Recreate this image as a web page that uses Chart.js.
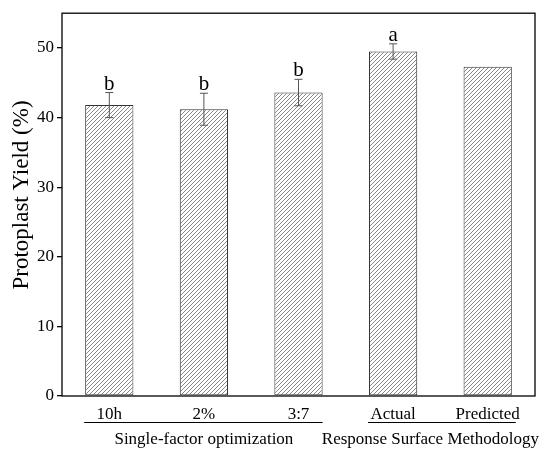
<!DOCTYPE html>
<html>
<head>
<meta charset="utf-8">
<script src="https://cdn.jsdelivr.net/npm/chart.js@4.4.0/dist/chart.umd.min.js"></script>
<style>
html,body{margin:0;padding:0;background:#fff;}
#wrap{width:550px;height:455px;}
</style>
</head>
<body>
<div id="wrap"><canvas id="c" width="550" height="455"></canvas></div>
<script>
const categories = ['10h', '2%', '3:7', 'Actual', 'Predicted'];
const yieldValues = [41.8, 41.2, 43.6, 49.5, 47.3];
const yieldErrors = [1.8, 2.3, 1.9, 1.1, null];
const sigLetters = ['b', 'b', 'b', 'a', ''];
const groupLabels = ['Single-factor optimization', 'Response Surface Methodology'];
const groupStart = [0, 3];
const groupEnd = [2, 4];
const yTicks = [0, 10, 20, 30, 40, 50];
const yTitle = 'Protoplast Yield (%)';

const FONT = '"Liberation Serif", "Times New Roman", serif';

function makeHatch() {
  const s = 4;
  const p = document.createElement('canvas');
  p.width = s; p.height = s;
  const g = p.getContext('2d');
  g.fillStyle = '#ffffff';
  g.fillRect(0, 0, s, s);
  g.strokeStyle = '#6a6a6a';
  g.lineWidth = 0.8;
  g.beginPath();
  g.moveTo(-1, s + 1); g.lineTo(s + 1, -1);
  g.moveTo(-1, 1); g.lineTo(1, -1);
  g.moveTo(s - 1, s + 1); g.lineTo(s + 1, s - 1);
  g.stroke();
  return g.createPattern(p, 'repeat');
}

const ctx = document.getElementById('c').getContext('2d');
const hatch = makeHatch();

const overlay = {
  id: 'overlay',
  afterDatasetsDraw(chart) {
    const c = chart.ctx;
    const y = chart.scales.y;
    const meta = chart.getDatasetMeta(0);
    c.save();
    c.strokeStyle = '#555';
    c.lineWidth = 1;
    meta.data.forEach((bar, i) => {
      const cx = bar.x;
      let topY = y.getPixelForValue(yieldValues[i]);
      if (yieldErrors[i] != null) {
        const hi = y.getPixelForValue(yieldValues[i] + yieldErrors[i]);
        const lo = y.getPixelForValue(yieldValues[i] - yieldErrors[i]);
        c.beginPath();
        c.moveTo(cx, hi); c.lineTo(cx, lo);
        c.moveTo(cx - 4, hi); c.lineTo(cx + 4, hi);
        c.moveTo(cx - 4, lo); c.lineTo(cx + 4, lo);
        c.stroke();
        topY = hi;
      }
      if (sigLetters[i]) {
        c.fillStyle = '#000';
        c.font = '21px ' + FONT;
        c.textAlign = 'center';
        c.textBaseline = 'alphabetic';
        c.fillText(sigLetters[i], cx, topY - 3);
      }
    });
    c.restore();
  },
  afterDraw(chart) {
    const c = chart.ctx;
    const a = chart.chartArea;
    const meta = chart.getDatasetMeta(0);
    c.save();
    c.strokeStyle = '#000';
    c.lineWidth = 1.3;
    c.strokeRect(a.left, a.top, a.right - a.left, a.bottom - a.top);
    // y title
    c.save();
    c.translate(22, 195);
    c.rotate(-Math.PI / 2);
    c.font = '23px ' + FONT;
    c.fillStyle = '#000';
    c.textAlign = 'center';
    c.textBaseline = 'middle';
    c.fillText(yTitle, 0, 0);
    c.restore();
    // group underline and labels
    c.font = '17px ' + FONT;
    c.fillStyle = '#000';
    c.textAlign = 'center';
    c.textBaseline = 'middle';
    c.lineWidth = 1;
    for (let g = 0; g < groupLabels.length; g++) {
      const b0 = meta.data[groupStart[g]], b1 = meta.data[groupEnd[g]];
      const l = b0.x - b0.width / 2 - 1, r = b1.x + b1.width / 2 + (g === 1 ? 4 : 0);
      c.beginPath();
      c.moveTo(l, a.bottom + 26.5); c.lineTo(r, a.bottom + 26.5);
      c.stroke();
      const w = c.measureText(groupLabels[g]).width;
      let cxm = (b0.x + b1.x) / 2;
      if (cxm + w / 2 > chart.width - 11) cxm = chart.width - 11 - w / 2;
      c.fillText(groupLabels[g], cxm, a.bottom + 44);
    }
    c.restore();
  }
};

new Chart(ctx, {
  type: 'bar',
  data: {
    labels: categories,
    datasets: [{
      data: yieldValues,
      backgroundColor: hatch,
      borderColor: '#333',
      borderWidth: 1,
      borderSkipped: false,
      barPercentage: 0.51,
      categoryPercentage: 1.0
    }]
  },
  options: {
    responsive: false,
    animation: false,
    devicePixelRatio: 1,
    layout: { padding: { left: 0, right: 15, top: 7, bottom: 0 } },
    plugins: { legend: { display: false }, tooltip: { enabled: false } },
    scales: {
      x: {
        grid: { display: false, drawTicks: false },
        border: { display: false },
        ticks: { color: '#000', font: { family: FONT, size: 17 }, padding: 8, maxRotation: 0, autoSkip: false },
        afterFit(s) { s.height = 59; }
      },
      y: {
        min: 0, max: 55,
        afterBuildTicks(s) { s.ticks = yTicks.map(v => ({ value: v })); },
        grid: { drawOnChartArea: false, drawTicks: true, tickLength: 5, color: '#000', lineWidth: 1.3 },
        border: { display: false },
        ticks: { color: '#000', font: { family: FONT, size: 17 }, padding: 3 },
        title: { display: false },
        afterFit(s) { s.width = 62; }
      }
    }
  },
  plugins: [overlay]
});
</script>
</body>
</html>
